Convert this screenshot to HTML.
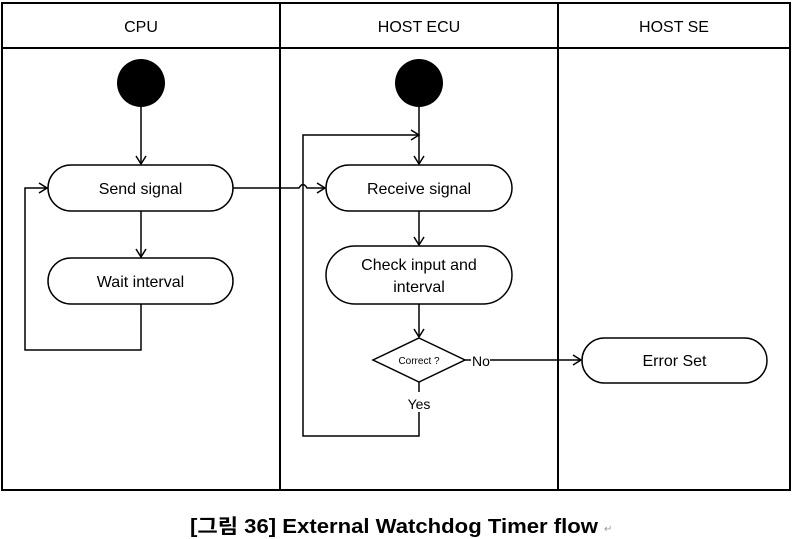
<!DOCTYPE html>
<html><head><meta charset="utf-8"><style>
html,body{margin:0;padding:0;background:#fff;}
svg{display:block;}
text{font-family:"Liberation Sans","Noto Sans CJK KR",sans-serif;fill:#000;}
</style></head><body>
<svg width="793" height="539" viewBox="0 0 793 539" xmlns="http://www.w3.org/2000/svg">
<defs>
<marker id="a" markerWidth="12" markerHeight="12" refX="10" refY="6" orient="auto" markerUnits="userSpaceOnUse">
<path d="M2,1 L10,6 L2,11" fill="none" stroke="#000" stroke-width="1.5"/>
</marker>
</defs>
<g fill="none" stroke="#000" stroke-width="2">
<rect x="2" y="3" width="788" height="487"/>
<line x1="2" y1="48" x2="790" y2="48"/>
<line x1="280" y1="3" x2="280" y2="490"/>
<line x1="558" y1="3" x2="558" y2="490"/>
</g>
<text x="141" y="32" font-size="16" text-anchor="middle">CPU</text>
<text x="419" y="32" font-size="16" text-anchor="middle">HOST ECU</text>
<text x="674" y="32" font-size="16" text-anchor="middle">HOST SE</text>

<circle cx="141" cy="83" r="24" fill="#000"/>
<circle cx="419" cy="83" r="24" fill="#000"/>

<g fill="#fff" stroke="#000" stroke-width="1.5">
<rect x="48" y="165" width="185" height="46" rx="23"/>
<rect x="48" y="258" width="185" height="46" rx="23"/>
<rect x="326" y="165" width="186" height="46" rx="23"/>
<rect x="326" y="246" width="186" height="58" rx="29"/>
<rect x="582" y="338" width="185" height="45" rx="22.5"/>
<polygon points="419,338 465,360 419,382 373,360"/>
</g>

<g fill="none" stroke="#000" stroke-width="1.5">
<line x1="141" y1="107" x2="141" y2="164" marker-end="url(#a)"/>
<line x1="141" y1="211" x2="141" y2="257" marker-end="url(#a)"/>
<polyline points="141,304 141,350 25,350 25,188 47,188" marker-end="url(#a)"/>
<line x1="419" y1="107" x2="419" y2="164" marker-end="url(#a)"/>
<path d="M233,188 L299,188 Q303,181 307,188 L325,188" marker-end="url(#a)"/>
<line x1="419" y1="211" x2="419" y2="245" marker-end="url(#a)"/>
<line x1="419" y1="304" x2="419" y2="337" marker-end="url(#a)"/>
<line x1="419" y1="382" x2="419" y2="392"/>
<polyline points="419,412 419,436 303,436 303,135 419,135" marker-end="url(#a)"/>
<line x1="465" y1="360" x2="471" y2="360"/>
<line x1="490" y1="360" x2="581" y2="360" marker-end="url(#a)"/>
</g>

<text x="140.5" y="194" font-size="16" text-anchor="middle">Send signal</text>
<text x="140.5" y="287" font-size="16" text-anchor="middle">Wait interval</text>
<text x="419" y="194" font-size="16" text-anchor="middle">Receive signal</text>
<text x="419" y="270" font-size="16" text-anchor="middle">Check input and</text>
<text x="419" y="292" font-size="16" text-anchor="middle">interval</text>
<text x="419" y="364" font-size="10" text-anchor="middle">Correct ?</text>
<text x="481" y="366" font-size="14" text-anchor="middle">No</text>
<text x="419" y="409" font-size="14" text-anchor="middle">Yes</text>
<text x="674.5" y="366" font-size="16" text-anchor="middle">Error Set</text>

<text x="190" y="533" font-size="20" font-weight="bold" textLength="408" lengthAdjust="spacingAndGlyphs">[그림 36] External Watchdog Timer flow</text>
<text x="604" y="532" font-size="10" style="fill:#999">↵</text>
</svg>
</body></html>
